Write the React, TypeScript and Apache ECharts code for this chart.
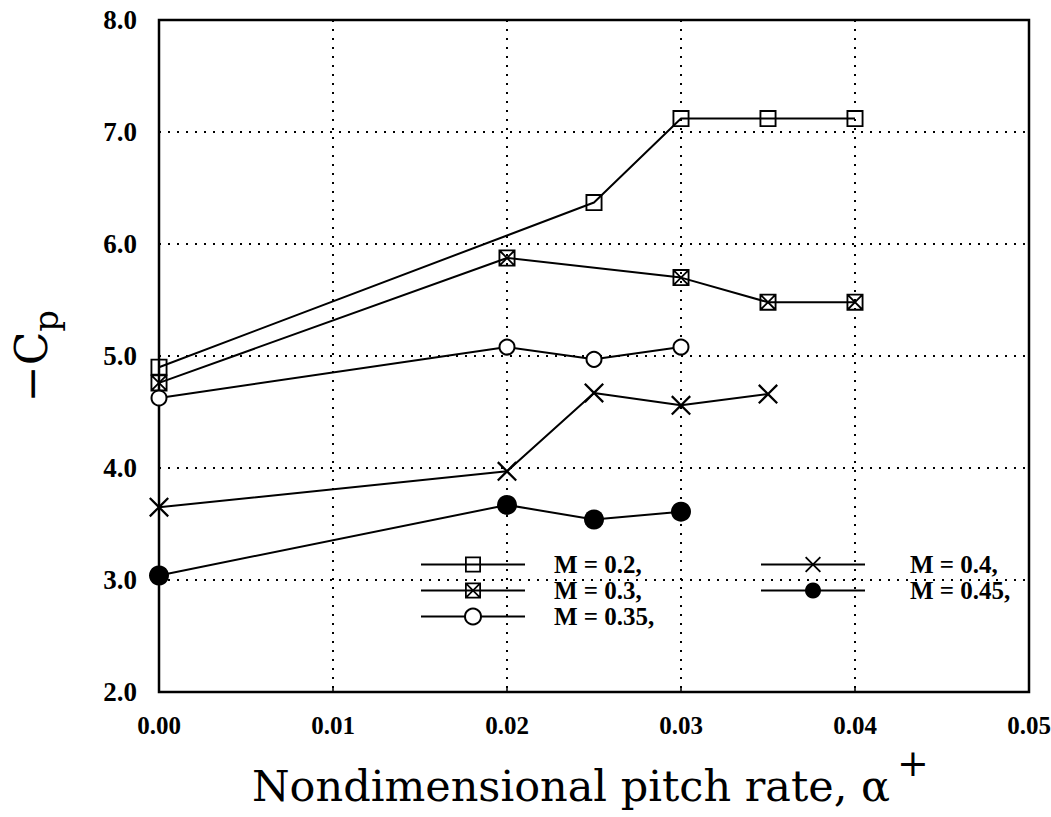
import React, { useEffect, useRef } from "react";
import * as echarts from "echarts";

const seriesNames = ["M = 0.2,", "M = 0.3,", "M = 0.35,", "M = 0.4,", "M = 0.45,"];
const m02X = [0, 0.025, 0.03, 0.035, 0.04];
const m02Y = [4.9, 6.37, 7.12, 7.12, 7.12];
const m03X = [0, 0.02, 0.03, 0.035, 0.04];
const m03Y = [4.76, 5.875, 5.7, 5.48, 5.48];
const m035X = [0, 0.02, 0.025, 0.03];
const m035Y = [4.625, 5.08, 4.97, 5.08];
const m04X = [0, 0.02, 0.025, 0.03, 0.035];
const m04Y = [3.65, 3.97, 4.67, 4.56, 4.66];
const m045X = [0, 0.02, 0.025, 0.03];
const m045Y = [3.04, 3.67, 3.54, 3.61];

const hollowSquare = "path://M0,0 L20,0 L20,20 L0,20 Z M2.2,2.2 L2.2,17.8 L17.8,17.8 L17.8,2.2 Z";
const crossedSquare =
  "path://M0,0 L20,0 L20,20 L0,20 Z M2.2,2.2 L2.2,17.8 L17.8,17.8 L17.8,2.2 Z M1,2.5 L2.5,1 L19,17.5 L17.5,19 Z M17.5,1 L19,2.5 L2.5,19 L1,17.5 Z";
const crossMark = "path://M0,1.6 L1.6,0 L10,8.4 L18.4,0 L20,1.6 L11.6,10 L20,18.4 L18.4,20 L10,11.6 L1.6,20 L0,18.4 L8.4,10 Z";

const pairs = (xs: number[], ys: number[]) => xs.map((x, i) => [x, ys[i]]);

export default function App() {
  const ref = useRef<HTMLDivElement>(null);
  useEffect(() => {
    if (!ref.current) return;
    const chart = echarts.init(ref.current, undefined, { renderer: "svg" });
    const lineStyle = { color: "#000", width: 2 };
    const base = { type: "line", lineStyle, color: "#000" };
    const labelFont = { fontFamily: "Liberation Serif", fontWeight: "bold", fontSize: 27, color: "#000" };
    chart.setOption({
      animation: false,
      backgroundColor: "#fff",
      grid: {
        left: 159, right: 22, top: 20, bottom: 125,
        outerBoundsMode: "none", containLabel: false,
        show: true, borderColor: "#000", borderWidth: 2.5,
      },
      xAxis: {
        type: "value",
        min: 0,
        max: 0.05,
        interval: 0.01,
        axisLine: { show: false },
        axisTick: { show: true, inside: true, length: 6, lineStyle: { color: "#000", width: 1.5 } },
        axisLabel: { ...labelFont, fontSize: 25, margin: 21, formatter: (v: number) => v.toFixed(2) },
        splitLine: { show: true, lineStyle: { color: "#000", type: [2, 7], width: 2 } },
        name: "Nondimensional pitch rate, α",
        nameLocation: "middle",
        nameGap: 72,
        nameTextStyle: { fontFamily: "DejaVu Serif", fontSize: 43, color: "#000", padding: [0, 46, 0, 0] },
      },
      yAxis: {
        type: "value",
        min: 2,
        max: 8,
        interval: 1,
        axisLine: { show: false },
        axisTick: { show: false },
        axisLabel: { ...labelFont, margin: 22, formatter: (v: number) => v.toFixed(1) },
        splitLine: { show: true, lineStyle: { color: "#000", type: [2, 7], width: 2 } },
        name: "{c|−C}{p|p}",
        nameLocation: "middle",
        nameRotate: 90,
        nameGap: 106,
        nameTextStyle: {
          rich: {
            c: { fontFamily: "DejaVu Serif", fontSize: 44, color: "#000", verticalAlign: "bottom" },
            p: { fontFamily: "DejaVu Serif", fontSize: 34, color: "#000", padding: [0, 0, -10, 0], verticalAlign: "bottom" },
          },
        },
      },
      graphic: [
        {
          type: "text",
          left: 897,
          top: 744,
          style: { text: "+", fontFamily: "DejaVu Serif", fontSize: 38, fill: "#000" },
        },
      ],
      legend: [
        {
          data: seriesNames.slice(0, 3),
          orient: "vertical",
          left: 415,
          top: 547,
          itemWidth: 104,
          itemHeight: 20,
          itemGap: 1,
          textStyle: { ...labelFont, fontSize: 25, lineHeight: 18, padding: [0, 0, 0, 24] },
        },
        {
          data: seriesNames.slice(3),
          orient: "vertical",
          left: 755,
          top: 547,
          itemWidth: 104,
          itemHeight: 20,
          itemGap: 1,
          textStyle: { ...labelFont, fontSize: 25, lineHeight: 18, padding: [0, 0, 0, 40] },
        },
      ],
      series: [
        { ...base, name: seriesNames[0], data: pairs(m02X, m02Y), symbol: hollowSquare, symbolSize: 17, itemStyle: { color: "#000" } },
        { ...base, name: seriesNames[1], data: pairs(m03X, m03Y), symbol: crossedSquare, symbolSize: 17, itemStyle: { color: "#000" } },
        { ...base, name: seriesNames[2], data: pairs(m035X, m035Y), symbol: "emptyCircle", symbolSize: 15, itemStyle: { color: "#000", borderWidth: 2.5 } },
        { ...base, name: seriesNames[3], data: pairs(m04X, m04Y), symbol: crossMark, symbolSize: 20, itemStyle: { color: "#000" } },
        { ...base, name: seriesNames[4], data: pairs(m045X, m045Y), symbol: "circle", symbolSize: 20, itemStyle: { color: "#000" } },
      ],
    });
    return () => chart.dispose();
  }, []);
  return <div ref={ref} style={{ width: 1051, height: 817, position: "absolute", left: 0, top: 0 }} />;
}
